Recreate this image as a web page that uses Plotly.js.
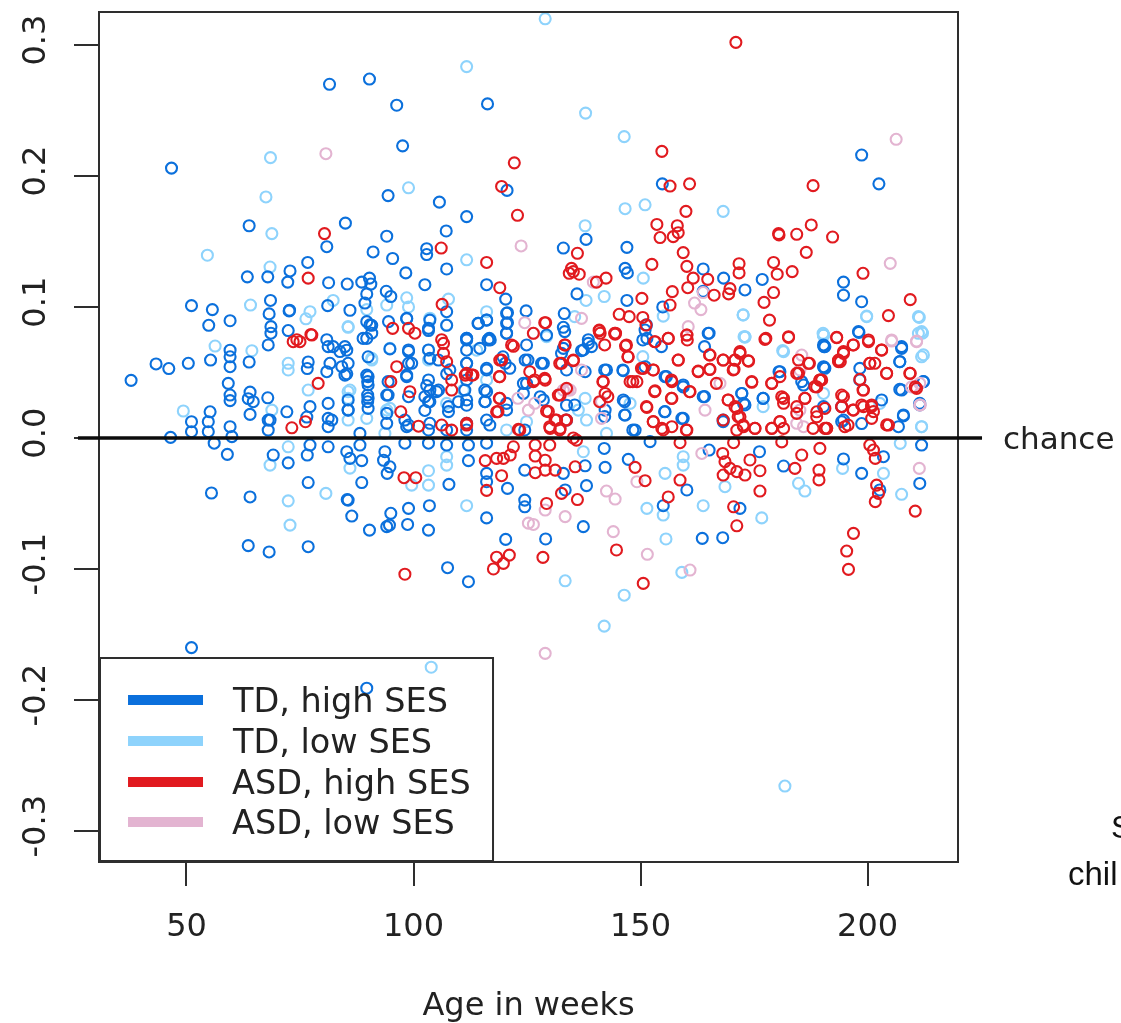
<!DOCTYPE html>
<html><head><meta charset="utf-8">
<script src="https://cdn.plot.ly/plotly-3.0.1.min.js"></script>
<style>html,body{margin:0;padding:0;background:#fff;overflow:hidden}#c{width:1121px;height:1023px;filter:blur(0.7px)}</style>
</head><body><div id="c"></div>
<script>
const xTicks=[50,100,150,200];
const yTicks=[-0.3,-0.2,-0.1,0,0.1,0.2,0.3];
const yTickText=["-0.3","-0.2","-0.1","0.0","0.1","0.2","0.3"];
const seriesNames=["TD, high SES","TD, low SES","ASD, high SES","ASD, low SES"];
const tdHigh=[[46.7,.206],[81.5,.270],[90.3,.274],[96.3,.254],[116.3,.255],[97.6,.223],[120.6,.189],[94.4,.185],[105.7,.180],[111.7,.169],[63.8,.162],[85,.164],[107.2,.158],[80.9,.146],[94.1,.154],[91.1,.142],[95.4,.137],[102.9,.1445],[102.9,.140],[107.3,.129],[76.7,.134],[98.3,.126],[72.8,.1275],[63.4,.123],[67.9,.123],[72.3,.119],[81.3,.1185],[85.4,.1175],[88.6,.119],[90.3,.122],[90.6,.1175],[102.5,.117],[94,.112],[95,.108],[89.7,.110],[116.1,.117],[120.3,.106],[51.1,.101],[55.7,.098],[54.9,.086],[59.6,.0895],[68.5,.105],[68.2,.0947],[68.6,.085],[68.6,.080],[72.6,.097],[72.7,.0975],[81.1,.101],[86,.0975],[89.3,.103],[72.4,.082],[98.5,.091],[107.3,.0964],[107.3,.086],[114.3,.0875],[116.1,.090],[120.7,.0956],[120.7,.088],[120.5,.080],[124.8,.097],[90.8,.086],[89.7,.0888],[94.5,.0888],[103.3,.0837],[111.7,.076],[116.7,.076],[89.7,.076],[90.8,.080],[80.9,.075],
[37.8,.044],[43.3,.0565],[46.1,.053],[50.4,.057],[55.3,.0595],[59.6,.067],[59.6,.062],[59.6,.0544],[59.2,.0417],[59.6,.0328],[59.6,.0285],[63.8,.058],[64,.035],[63.6,.030],[64.7,.0277],[64,.018],[67.9,.0307],[68,.071],[76.8,.058],[76.6,.053],[72.1,.020],[68.4,.0137],[68,.006],[77.2,.0239],[76.5,.016],[81.6,.057],[80.9,.0506],[85.3,.067],[83.8,.066],[81.2,.0697],[85.6,.057],[85.3,.049],[89.7,.048],[89.9,.043],[89.9,.0328],[89.9,.0277],[85.6,.029],[85.6,.0213],[81.2,.0264],[81.2,.015],[81.2,.0086],[55.2,.020],[54.8,.0124],[51.1,.0124],[51.1,.0048],[54.8,.0048],[59.6,.0086],[60,.001],[46.5,.0005],[68,.0137],[56.1,-.004],[59,-.0125],[69.1,-.013],[72.4,-.019],[76.6,-.013],[77.2,-.0054],[81.2,-.0067],[85.3,-.0105],[86,-.0156],[88.6,-.0173],[88.2,-.0054],[93.4,-.017],[93.7,-.0105],[94.8,-.022],[94.2,-.027],[98.1,-.004],[103.3,-.004],[107.3,-.0054],[112.1,-.0173],[112.1,-.0054],[116.1,-.004],[107.8,-.0354],[76.8,-.034],[88.6,-.034],[55.5,-.042],[64,-.045],[85.4,-.047],[85.6,-.0474],[86.4,-.0596],[95,-.0575],[98.9,-.0537],[103.5,-.0517],[94.1,-.0677],[94.7,-.0665],[98.7,-.066],[103.3,-.0703],[90.3,-.0703],[116.1,-.061],[120.3,-.0774],[63.6,-.0822],[68.2,-.087],[76.8,-.083],[107.5,-.099],[112.1,-.1097],[51.1,-.160],[89.7,-.191],[116.1,-.027],[116.1,-.0334],[120.7,-.0385],[124.5,-.0474],[124.5,-.0525],[124.5,-.0245],
[94.8,.068],[98.9,.066],[98.9,.057],[98.5,.048],[102.9,.040],[103.6,.0366],[103.3,.0277],[102.5,.021],[107.3,.049],[111.7,.057],[111.7,.067],[111.7,.0748],[116.9,.0748],[116.1,.0519],[116.1,.0353],[115.8,.0277],[116.1,.0137],[111.7,.025],[109.9,.0277],[111.7,.0061],[105.5,.0366],[107.7,.0201],[107.3,.0061],[103.3,.0061],[98.5,.0086],[98.1,.0137],[120.2,.057],[124.6,.0595],[124.2,.0417],[120.5,.0264],[124.5,.0061],[94.1,.0328],[94.1,.0188],[105.5,.0595],
[198.7,.216],[202.5,.194],[154.8,.194],[138,.1516],[133,.145],[136,.110],[147,.1455],[146.6,.1295],[147.1,.126],[147,.105],[163.8,.129],[168.3,.122],[176.8,.121],[173,.113],[163.8,.112],[154.9,.100],[194.7,.119],[194.7,.109],[198.7,.104],[198.1,.0806],[165.1,.080],[133.2,.095],[133,.0845],[129.3,.0786],[138.5,.075],[151,.0824],[151.4,.076],
[138.5,.0722],[137,.0666],[132.6,.0646],[128.2,.057],[137.8,.0506],[142.5,.0519],[146.2,.0514],[151,.0544],[155.4,.0468],[159.4,.039],[163.8,.0315],[172.3,.034],[177,.0302],[180.5,.0506],[190.3,.071],[190.3,.0544],[198.3,.0531],[207.5,.0697],[207.1,.0582],[207.5,.0366],[212.3,.0430],[211.5,.0252],[207.9,.0168],[206.8,.0086],[198.7,.011],[194.7,.0137],[211.9,-.0054],[203.5,-.0143],[198.7,-.027],[194.7,-.016],[181.5,-.0214],[202.7,-.0397],[211.5,-.0347],[176.2,-.0105],[171.9,-.0537],[160.2,-.0397],[155,-.0517],[147.3,-.0163],[142,-.008],[142.2,-.0224],[138.1,-.0364],[137.8,-.0212],[133.4,-.0397],[133,-.027],[129.1,-.0771],[137.4,-.0677],[163.6,-.0766],[168.1,-.0761],[165.1,-.0092],[159.1,.0150],[155.4,.0201],[146.2,.0290],[146.6,.0175],[148.8,.006],[152.1,-.0028],[168.2,.0137],[185.9,.0404],[133.7,.025],[127.9,.0315],[142.2,.0213],[172.7,.0264],
[90.4,.0863],[88.9,.076],[84.9,.0697],[84.2,.0544],[84.9,.048],[82.3,.0697],[90,.0468],[90,.0405],[90,.0303],[85.6,.0214],[90,.0226],[82,.0137],[88.2,.0035],[98.5,.0913],[103.6,.09],[103.3,.082],[98.9,.0672],[99.6,.057],[103.3,.0672],[103.6,.0608],[108,.052],[103.3,.0443],[102.5,.0315],[103.6,.0277],[105.1,.0354],[94.4,.0328],[94.4,.043],[98.5,.0468],[98.9,.0315],[94.1,.0112],[98.9,.0099],[103.6,.0112],[107.7,.0239],[90,.062],
[114.2,.0875],[116.1,.0901],[120.5,.0952],[120.5,.0875],[120.5,.0799],[116.4,.0748],[111.7,.0761],[114.6,.0684],[124.9,.071],[125.2,.0595],[128.6,.057],[133.3,.0812],[133,.0684],[111.7,.057],[111.7,.0443],[111.7,.029],[111.3,.0366],[116.1,.0532],[115.7,.0366],[115.7,.0277],[124.9,.0417],[124.2,.034],[128.6,.029],[133.7,.0519],[133.7,.0137],[135.5,.0252],[121.2,.0532],[116.8,.0099],[111.7,.0112],[120.5,.0214],[119.7,.062],[137.4,.0672],
[146.1,.0519],[164.9,.0799],[164.1,.0697],[164.1,.0316],[155.3,.02],[146.5,.0277],[146.5,.0176],[142.1,.0163],[148.3,.0061],[159.4,.015],[139.2,.0697],[142.1,.0519],[154.6,.0697],[150.5,.0748],[151.3,.0863],[155.7,.0468],[159.4,.0405],
[190.4,.0697],[190.4,.0539],[180.7,.0506],[185.5,.043],[172.3,.034],[177,.0303],[168.2,.0125],[190.3,.0239],[173,.0252],[198,.0812],[190.6,.0697],[207.5,.0684],[207.1,.0583],[190.6,.0532],[198.3,.0443],[207.1,.0371],[212.3,.0430],[194.3,.0239],[207.9,.0176],[194.3,.0125],[203.1,.029],[211.5,.0265]];
const tdLow=[[111.7,.2835],[68.5,.214],[67.5,.184],[98.9,.191],[68.8,.156],[54.6,.1395],[111.7,.136],[68.4,.1305],[64.1,.1015],[77.2,.0964],[76.3,.091],[82.3,.105],[89.7,.098],[94.1,.1015],[98.5,.107],[98.9,.100],[103.6,.0914],[85.6,.0845],[107.7,.106],[116.1,.0964],
[129,.320],[137.9,.248],[146.4,.230],[146.6,.175],[151,.178],[168.2,.173],[137.8,.162],[142,.108],[138,.105],[150.6,.122],[172.6,.094],[199.8,.0926],[211.4,.092],[212.1,.080],[190.3,.0786],[173,.077],[155,.093],
[56.3,.0702],[64.4,.0666],[72.4,.057],[72.4,.0519],[49.3,.0206],[76.8,.0366],[68.8,.0213],[85.6,.0353],[90.8,.0595],[85.6,.0137],[94.1,.0213],[89.7,.015],[93.7,.0035],[68.4,-.0207],[72.4,-.0067],[72.4,-.048],[72.8,-.0665],[80.7,-.0423],[86,-.023],[103.3,-.0250],[103.3,-.036],[99.6,-.036],[107.3,-.0143],[107.3,-.0207],[111.7,-.0517],[103.3,.0595],[103.3,.067],[107.3,.0264],[116.1,.0443],[111,.0366],[113.9,.067],[124.9,.0124],[120.5,.0061],
[173,.0773],[181.5,.0659],[211.9,.062],[211.2,.0799],[190.3,.0786],[207.2,-.0041],[203.5,-.027],[207.5,-.043],[184.8,-.0346],[186.2,-.0405],[176.7,-.061],[168.6,-.0372],[163.8,-.0517],[151.4,-.0537],[155,-.0588],[155.4,-.0270],[159.4,-.0143],[159.4,-.0207],[137.4,-.0105],[155.6,-.0771],[133.4,-.109],[146.4,-.12],[142,-.1436],[159.1,-.1026],[194.5,-.0232],[211.9,.0086],[202.7,.0264],[190.3,.0340],[177,.0239],[137.8,.0302],[147.7,.0264],[142.5,.0035],[136.3,.0213],[138.1,.0137],[103.9,-.175],[181.8,-.2657],
[85.6,.085],[107.3,.0863],[94.8,.0684],[90.8,.0608],[85.6,.0303],[86,.0366],[94.8,.0226],[129.3,.0774],[135.5,.0926],[150.5,.0621],[172.6,.0939],[172.8,.0773],[181.3,.0667],[190.3,.0786],[199.8,.0931],[211.2,.0926],[211.9,.0812],[212.3,.0634],[211.9,.0086],[190.2,.0799]];
const asdHigh=[[122.2,.210],[119.4,.192],[122.9,.170],[80.4,.156],[106.1,.145],[116.1,.134],[76.8,.122],[119,.1147],[106.3,.102],[95.4,.0837],[98.9,.0837],[100.3,.080],[77.4,.079],[74.3,.075],[106.2,.075],
[171,.302],[154.7,.2188],[156.5,.1923],[160.8,.194],[188,.1926],[160,.173],[153.6,.163],[158.1,.162],[158.3,.1567],[154.3,.153],[157.2,.1537],[180.4,.156],[180.5,.155],[184.4,.1555],[187.6,.1626],[192.3,.1534],[186.5,.1417],[159.4,.1415],[136.1,.141],[152.5,.1325],[160.2,.131],[171.7,.133],[171.7,.126],[179.3,.134],[180.1,.125],[183.4,.127],[134.8,.1295],[134.3,.1257],[136.5,.125],[135.2,.127],[142.4,.122],[140.3,.119],[161.6,.122],[164.8,.1211],[160.4,.1147],[157,.1117],[169.7,.114],[169.4,.110],[166.2,.109],[179.3,.111],[177.2,.1035],[199,.1257],[209.4,.1056],[204.6,.0934],[178.4,.09],[150.3,.1066],[156.5,.1015],[145.3,.0944],[147.5,.0926],[150.5,.092],[129.1,.088],[140.9,.0817],[144.5,.08],[151.2,.0862],[177.6,.076],[182.6,.0773],[193.2,.0766],[200.2,.0748],[160.2,.0786],
[79,.0417],[73.5,.0735],[75,.0735],[77.6,.0786],[73.2,.0078],[76.2,.0124],[96.3,.0544],[95,.043],[99.2,.0353],[97.2,.02],[101.1,.009],[106.2,.0099],[108.4,.006],[111.7,.0112],[106.6,.0722],[106.6,.0646],[107.3,.0582],[108.4,.0443],[108.4,.0366],[111.4,.048],[112.8,.048],[119,.0468],[119.4,.0595],[122,.07],[119,.0302],[118.3,.02],[123.1,.0066],[122,-.0067],[121.3,-.013],[119.8,-.0156],[118.3,-.0156],[115.8,-.0173],[119.4,-.0288],[116.1,-.04],[97.9,-.0303],[100.5,-.0303],[98.1,-.104],[121.1,-.0894],[118.3,-.091],[119.8,-.0957],[117.6,-.1],
[177.4,.0753],[182.6,.0768],[193.2,.0768],[196.9,.071],[200.2,.0735],[203.1,.0671],[194.7,.0646],[194,.0582],[193.6,.0595],[200.5,.057],[201.6,.057],[204.2,.0493],[209.4,.0493],[198.3,.0447],[199.1,.0366],[210.5,.039],[141.1,.0799],[144.4,.0793],[146.9,.071],[147.3,.062],[153.2,.0735],[156.1,.0760],[160.2,.0786],[160.3,.0748],[158.3,.0595],[165.3,.0633],[162.7,.0506],[165.3,.0524],[168.2,.0595],[170.8,.0595],[171.9,.0646],[173.8,.0587],[170.6,.0524],[174.5,.0425],[178.9,.0417],[181.5,.0302],[186.2,.0302],[184.8,.0595],[187,.057],[184.4,.0493],[189.5,.0442],[188.8,.039],[169.3,.029],[171.2,.0226],[171.9,.0162],[168.2,.0137],[175.2,.0073],[171.2,.006],[172.7,.0086],[178.9,.0073],[180.7,.0124],[181.5,.0073],[190.6,.0073],[188,.0073],[188.8,.0162],[184.4,.0188],[194.3,.0239],[196.9,.0213],[199.1,.0239],[200.9,.0252],[201.3,.0201],[200.9,.0150],[204.2,.01],[194.7,.0315],[195,.0086],[152.8,.0519],[150.6,.0531],[147.7,.043],[149.2,.043],[153.2,.036],[156.9,.043],[156.9,.0302],[160.9,.0353],[151.4,.0234],[152.8,.0124],[154.7,.0073],[156.9,.0086],[160.2,.006],[158.7,-.0036],[133.4,.071],[132.6,.057],[135.2,.0590],[129,.0442],[126.4,.043],[132.3,.0328],[133.7,.0379],[142.2,.034],[141.8,.043],[129.3,.0206],[131.2,.0137],[133.7,.0137],[130.1,.0073],[132.3,.0073],[135.2,0],[135.9,-.0016],[126.8,-.0054],[130,-.0054],[126.8,-.0138],[129,-.017],[129,-.0245],[126.8,-.0265],[131.2,-.0245],[135.6,-.022],[132.6,-.0423],[129.3,-.05],[136.1,-.047],[148.8,-.0224],[151,-.0326],[158.7,-.0321],[156.1,-.045],[176.3,-.0405],[176.3,-.025],[174.1,-.0168],[173,-.0283],[171.2,-.0257],[169.7,-.0232],[168.6,-.0181],[168.1,-.0118],[170.5,-.0036],[168.2,-.0283],[170.5,-.0525],[171.2,-.067],[181.1,-.003],[184,-.0232],[189.3,-.0245],[189.3,-.032],[189.5,-.0079],[185.5,-.0130],[200.5,-.0054],[201.3,-.0092],[201.7,-.0156],[202,-.036],[202.4,-.0423],[201.7,-.0486],[210.5,-.0558],[196.9,-.0728],[195.4,-.0863],[195.8,-.1003],[144.7,-.0855],[128.5,-.0911],[150.6,-.111],
[128.9,.088],[126.4,.0799],[121.6,.071],[133.3,.071],[135.2,.0595],[132.2,.057],[119,.0595],[118.9,.0468],[125.6,.0506],[128.9,.0455],[126.7,.0443],[131.9,.0328],[118.9,.0303],[118.6,.0201],[129.7,.0201],[111.7,.0494],[113.1,.0481],[131.5,.0137],[133.5,.0137],[111.7,.0099],[123.4,.0061],[130,.0086],[132.2,.0061],
[140.9,.0824],[144.3,.0799],[142.1,.071],[146.7,.0702],[147.2,.062],[153.1,.0735],[156.1,.0761],[158.3,.0595],[162.7,.0511],[165.2,.0524],[165.2,.0634],[166.7,.0417],[150.2,.0532],[152.8,.0519],[141.7,.043],[148.3,.043],[153.1,.0354],[156.8,.0443],[156.8,.0303],[160.8,.0354],[142.8,.0315],[141,.0277],[151.3,.0239],[152.8,.0125],[155,.0061],[160.1,.0061],
[171.9,.0659],[168.2,.0595],[170.8,.0595],[173.7,.059],[170.4,.0519],[187.2,.057],[194.7,.0659],[193.6,.0583],[174.5,.043],[178.9,.0417],[180.7,.0468],[184.8,.0494],[189.5,.0443],[188.4,.0392],[181.1,.0315],[181.5,.0265],[186.2,.0303],[169.3,.029],[170.8,.0239],[171.5,.0163],[175.2,.0074],[178.9,.0074],[180.7,.0125],[184.4,.0239],[188.8,.02],[191,.0074],[194.3,.0328],[194.3,.0239],[172.6,.0099],
[196.8,.071],[203.1,.0672],[200.5,.0570],[204.2,.0494],[209.3,.0494],[189.9,.0443],[199,.0366],[210.8,.0379],[198.7,.0252],[200.9,.0239],[196.8,.0214],[190.6,.0226],[204.6,.0099],[195.7,.0099],[191,.0074]];
const asdLow=[[80.7,.217],[123.7,.1466],[124.5,.088],[206.3,.228],[205,.1333],[139.6,.119],[161.9,.103],[163.3,.098],[137,.0913],[163.8,.111],[160.5,.085],[126.4,.08],[125.3,-.065],[125.3,.0213],
[210.8,.074],[205.3,.074],[185.5,.0633],[185.1,.0519],[167.5,.0417],[164.2,.0213],[185.1,.0213],[184.4,.0112],[185.9,.0086],[209.7,.039],[211.6,.0252],[141.4,.0150],[141.4,.0277],[133,.0366],[134.5,.0366],[133.4,-.06],[126.4,-.066],[129,-.055],[142.5,-.0405],[144.4,-.0466],[144,-.0715],[151.5,-.0888],[211.4,-.0232],[163.5,-.0118],[149.2,-.0334],[160.9,-.1008],[137,.0519],[129,-.1644],
[123,.0303],[134,.0366],[126.7,.0265],[210.8,.0735],[205.3,.0748],[211.5,.0417],[211.5,.0252]];
const colors=["#0b70dc","#8ed3fc","#e11a1f","#e3b4d1"];
const groups=[tdLow,tdHigh,asdLow,asdHigh];
const groupColor=[colors[1],colors[0],colors[3],colors[2]];
const groupName=[seriesNames[1],seriesNames[0],seriesNames[3],seriesNames[2]];
const font="DejaVu Sans, sans-serif";
const traces=groups.map((g,i)=>({type:"scatter",mode:"markers",name:groupName[i],showlegend:false,
  x:g.map(p=>p[0]),y:g.map(p=>p[1]),
  marker:{symbol:"circle-open",size:11,color:groupColor[i],line:{width:2.1,color:groupColor[i]}}}));
const axisBase={showgrid:false,zeroline:false,showline:true,mirror:true,linecolor:"#2e2e2e",linewidth:2,ticks:"outside",tickcolor:"#2e2e2e",tickwidth:2,tickfont:{family:font,size:32,color:"#222"}};
const plotW=857, plotH=848;
const legendRows=[700,741,782,822];
const keyShapes=legendRows.map((r,i)=>({type:"line",xref:"paper",yref:"paper",x0:.0327,x1:.1202,y0:(861-r)/plotH,y1:(861-r)/plotH,line:{color:colors[i],width:10},layer:"above"}));
const keyLabels=legendRows.map((r,i)=>({xref:"paper",yref:"paper",x:.1515,y:(861-r)/plotH,xanchor:"left",yanchor:"middle",showarrow:false,text:seriesNames[i],font:{family:font,size:33.5,color:"#222"}}));
const layout={width:1121,height:1023,margin:{l:100,r:164,t:13,b:162},paper_bgcolor:"#fff",plot_bgcolor:"#fff",font:{family:font,color:"#222"},showlegend:false,
 xaxis:Object.assign({},axisBase,{range:[30.95,219.7],tickmode:"array",tickvals:xTicks,ticklen:23,ticklabelstandoff:12,
   title:{text:"Age in weeks",font:{family:font,size:32,color:"#222"},standoff:50}}),
 yaxis:Object.assign({},axisBase,{range:[-.3229,.3244],tickmode:"array",tickvals:yTicks,ticktext:yTickText,ticklen:24,tickangle:-90,ticklabelstandoff:16}),
 shapes:[
  {type:"rect",xref:"x domain",yref:"y domain",x0:0,x1:.4586,y0:0,y1:.2394,line:{color:"#2e2e2e",width:2},fillcolor:"rgba(0,0,0,0)",layer:"above"},
  {type:"line",xref:"paper",yref:"y",x0:-.0257,x1:1.0292,y0:0,y1:0,line:{color:"#0c0c0c",width:3.5},layer:"above"}
 ].concat(keyShapes),
 annotations:[
  {xref:"paper",yref:"y",x:1.0515,y:0,xanchor:"left",yanchor:"middle",showarrow:false,text:"chance",font:{family:font,size:31,color:"#222"}},
  {xref:"paper",yref:"paper",x:1.1775,y:.0405,xanchor:"left",yanchor:"middle",showarrow:false,text:"S",font:{family:"Liberation Sans, sans-serif",size:32,color:"#111"}},
  {xref:"paper",yref:"paper",x:1.1275,y:-.0145,xanchor:"left",yanchor:"middle",showarrow:false,text:"chil",font:{family:"Liberation Sans, sans-serif",size:33,color:"#111"}}
 ].concat(keyLabels)};
Plotly.newPlot("c",traces,layout,{displayModeBar:false,staticPlot:true});
</script></body></html>
